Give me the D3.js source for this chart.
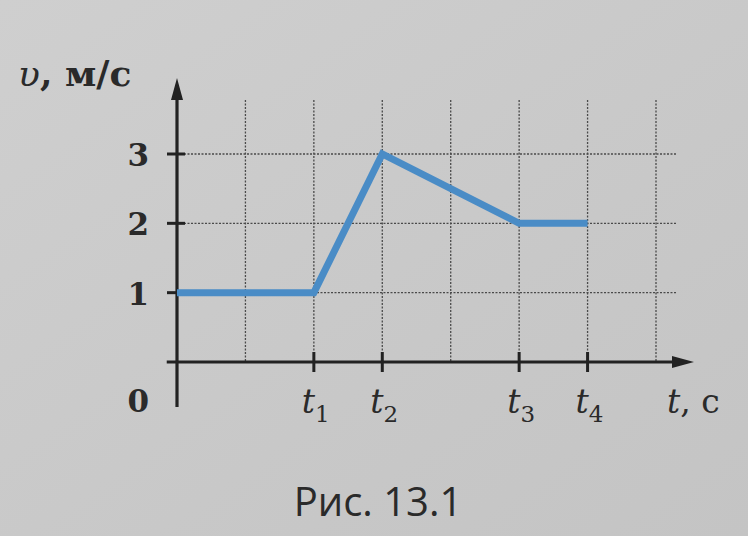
<!DOCTYPE html>
<html><head><meta charset="utf-8">
<script src="https://cdn.jsdelivr.net/npm/d3@7"></script>
<style>html,body{margin:0;padding:0;background:#c9c9c9;}svg{display:block;}</style>
</head><body>
<svg id="c" width="748" height="536"></svg>
<script>
// data
const times = [0, 2, 3, 5, 6];          // grid units
const speeds = [1, 1, 3, 2, 2];         // м/с
const yTicks = [1, 2, 3];
const xTickPos = [2, 3, 5, 6];
const xTickLabels = ["1", "2", "3", "4"];
const gridX = [1, 2, 3, 4, 5, 6, 7];

const svg = d3.select("#c");
const defs = svg.append("defs");
const grad = defs.append("linearGradient").attr("id","bg").attr("x1",0).attr("y1",0).attr("x2",1).attr("y2",1);
grad.append("stop").attr("offset","0%").attr("stop-color","#cfcfcf");
grad.append("stop").attr("offset","60%").attr("stop-color","#c8c8c8");
grad.append("stop").attr("offset","100%").attr("stop-color","#c4c4c4");
svg.append("rect").attr("width",748).attr("height",536).attr("fill","url(#bg)");

const x = d3.scaleLinear().domain([0, 7]).range([177, 656]);
const y = d3.scaleLinear().domain([0, 3]).range([362, 154]);

const g = svg.append("g");
// grid
g.selectAll(".gv").data(gridX).join("line")
  .attr("x1", d => x(d)).attr("x2", d => x(d))
  .attr("y1", y(3.78)).attr("y2", y(0))
  .attr("stroke", "#4a4a4a").attr("stroke-width", 1.3).attr("stroke-dasharray", "2,1.5");
g.selectAll(".gh").data(yTicks).join("line")
  .attr("x1", x(0)).attr("x2", x(7.3))
  .attr("y1", d => y(d)).attr("y2", d => y(d))
  .attr("stroke", "#4a4a4a").attr("stroke-width", 1.3).attr("stroke-dasharray", "2,1.5");

// axes
const axCol = "#222";
g.append("line").attr("x1", x(0)).attr("x2", x(0)).attr("y1", y(-0.65)).attr("y2", 92)
  .attr("stroke", axCol).attr("stroke-width", 3.2);
g.append("path").attr("d", `M${x(0)},78 L${x(0)-6},100 L${x(0)+6},100 Z`).attr("fill", axCol);
g.append("line").attr("x1", x(-0.15)).attr("x2", 680).attr("y1", y(0)).attr("y2", y(0))
  .attr("stroke", axCol).attr("stroke-width", 3.2);
g.append("path").attr("d", `M694,${y(0)} L672,${y(0)-6} L672,${y(0)+6} Z`).attr("fill", axCol);

// ticks
g.selectAll(".ty").data(yTicks).join("line")
  .attr("x1", x(0)-10).attr("x2", x(0)+8)
  .attr("y1", d => y(d)).attr("y2", d => y(d))
  .attr("stroke", axCol).attr("stroke-width", 3);
g.selectAll(".tx").data(xTickPos).join("line")
  .attr("x1", d => x(d)).attr("x2", d => x(d))
  .attr("y1", y(0)-10).attr("y2", y(0)+10)
  .attr("stroke", axCol).attr("stroke-width", 3);

// data line
const pts = times.map((t, i) => [t, speeds[i]]);
g.append("path").datum(pts)
  .attr("d", d3.line().x(d => x(d[0])).y(d => y(d[1])))
  .attr("fill", "none").attr("stroke", "#4a8cc6").attr("stroke-width", 7)
  .attr("stroke-linejoin", "miter");

// labels
const serif = "'DejaVu Serif', 'Liberation Serif', serif";
g.selectAll(".ly").data(yTicks).join("text")
  .attr("x", 149).attr("y", d => y(d) + 12)
  .attr("text-anchor", "end")
  .attr("font-family", serif).attr("font-weight", "bold").attr("font-size", 31).attr("fill", "#2a2a2a")
  .text(d => d);
g.append("text").attr("x", 149).attr("y", 412).attr("text-anchor", "end")
  .attr("font-family", serif).attr("font-weight", "bold").attr("font-size", 31).attr("fill", "#2a2a2a").text("0");

const xl = g.selectAll(".lx").data(xTickPos).join("text")
  .attr("x", d => x(d) - 12).attr("y", 413)
  .attr("font-family", serif).attr("font-size", 33).attr("fill", "#2a2a2a");
xl.append("tspan").attr("font-style", "italic").text("t");
xl.append("tspan").attr("font-size", 23).attr("dy", 9).text((d, i) => xTickLabels[i]);

const tl = g.append("text").attr("x", 667).attr("y", 413)
  .attr("font-family", serif).attr("font-size", 33).attr("fill", "#2a2a2a");
tl.append("tspan").attr("font-style", "italic").text("t");
tl.append("tspan").text(", с");

const vl = g.append("text").attr("x", 18).attr("y", 86)
  .attr("font-family", serif).attr("font-size", 36).attr("font-weight", "bold").attr("fill", "#2a2a2a");
vl.append("tspan").attr("font-style", "italic").attr("font-weight", "normal").text("υ");
vl.append("tspan").text(", м/с");

g.append("text").attr("x", 378).attr("y", 516).attr("text-anchor", "middle")
  .attr("font-family", "'Open Sans', 'Noto Sans', sans-serif").attr("font-size", 40).attr("fill", "#2a2a2a")
  .text("Рис. 13.1");
</script>
</body></html>
